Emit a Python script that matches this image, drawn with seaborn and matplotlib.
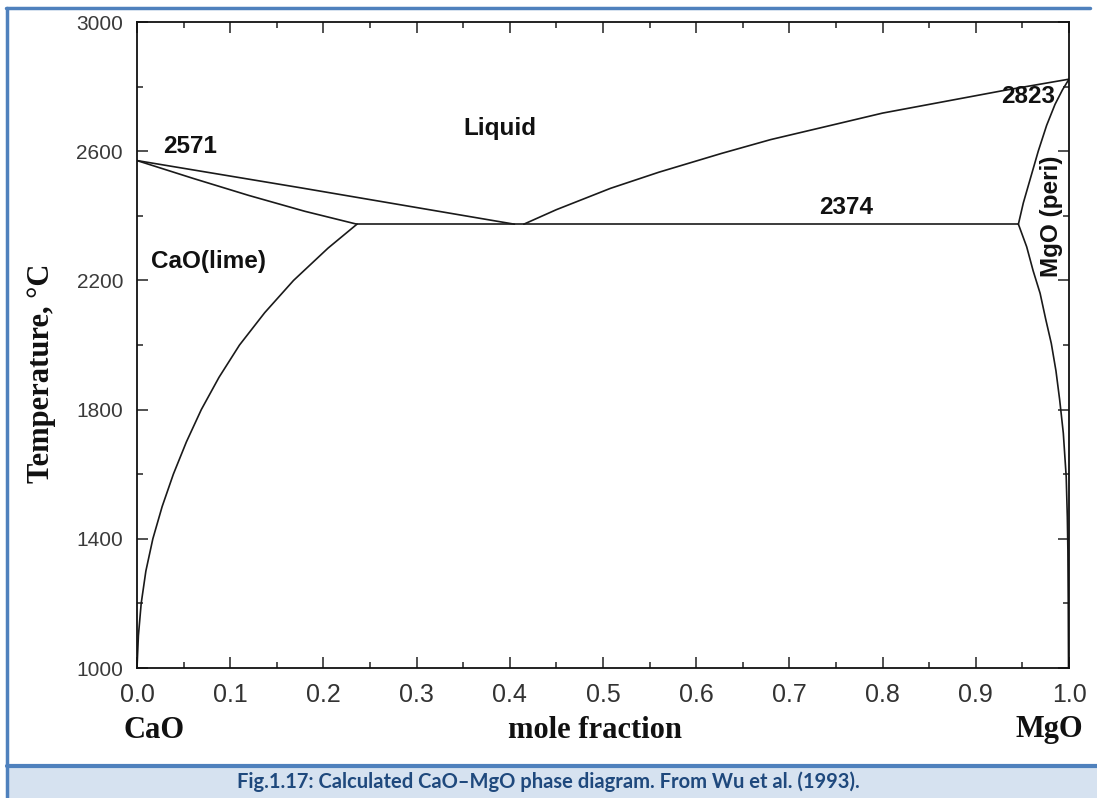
import numpy as np
import pandas as pd
import matplotlib
matplotlib.use("Agg")
import matplotlib.pyplot as plt
import seaborn as sns
from matplotlib.patches import Rectangle
from matplotlib.lines import Line2D
from matplotlib.ticker import MultipleLocator, FormatStrFormatter

# ---------------- data (mole fraction MgO, temperature in deg C) ----------------
liq_cao_x = [0.0, 0.175, 0.405]
liq_cao_t = [2571, 2487, 2374]

sol_cao_x = [0.0, 0.06, 0.12, 0.18, 0.236]
sol_cao_t = [2571, 2516, 2463, 2414, 2374]

solv_cao_x = [0.236, 0.205, 0.168, 0.137, 0.110, 0.088, 0.069, 0.053, 0.039,
              0.027, 0.017, 0.0095, 0.0045, 0.0015, 0.0]
solv_cao_t = [2374, 2300, 2200, 2100, 2000, 1900, 1800, 1700, 1600,
              1500, 1400, 1300, 1200, 1100, 1000]

eut_x = [0.236, 0.9457]
eut_t = [2374, 2374]

liq_mgo_x = [0.415, 0.45, 0.508, 0.56, 0.627, 0.68, 0.746, 0.80, 0.865, 0.93, 1.0]
liq_mgo_t = [2374, 2419, 2485, 2535, 2593, 2636, 2681, 2718, 2753, 2788, 2823]

sol_mgo_x = [1.0, 0.993, 0.985, 0.976, 0.967, 0.958, 0.951, 0.9457]
sol_mgo_t = [2823, 2790, 2745, 2680, 2600, 2510, 2440, 2374]

solv_mgo_x = [0.9457, 0.9546, 0.9615, 0.969, 0.975, 0.981, 0.986, 0.990, 0.9939,
              0.997, 0.9982, 0.9988, 0.9992, 0.9995]
solv_mgo_t = [2374, 2304, 2230, 2160, 2080, 2005, 1920, 1830, 1727,
              1592, 1468, 1365, 1200, 1000]

x_ticks = [0.0, 0.1, 0.2, 0.3, 0.4, 0.5, 0.6, 0.7, 0.8, 0.9, 1.0]
y_ticks = [1000, 1400, 1800, 2200, 2600, 3000]

labels = ["2571", "Liquid", "2374", "2823", "CaO(lime)"]
label_x = [0.028, 0.389, 0.761, 0.956, 0.015]
label_t = [2616, 2669, 2427, 2768, 2257]

caption = "Fig.1.17: Calculated CaO\u2013MgO phase diagram. From Wu et al. (1993)."

# ---------------- figure ----------------
sns.set_theme(style="ticks")
plt.rcParams["font.family"] = ["Liberation Sans", "DejaVu Sans"]

W, H = 1097, 798
fig = plt.figure(figsize=(W / 100, H / 100), dpi=100)
fig.patch.set_facecolor("white")

ax = fig.add_axes([137 / W, 1 - 668 / H, (1069 - 137) / W, (668 - 22) / H])

segments = [
    (liq_cao_x, liq_cao_t), (sol_cao_x, sol_cao_t), (solv_cao_x, solv_cao_t),
    (eut_x, eut_t), (liq_mgo_x, liq_mgo_t), (sol_mgo_x, sol_mgo_t),
    (solv_mgo_x, solv_mgo_t),
]
for xs, ts in segments:
    df = pd.DataFrame({"x": xs, "T": ts})
    sns.lineplot(data=df, x="x", y="T", sort=False, estimator=None, ax=ax,
                 color="#1a1a1a", linewidth=1.2, legend=False)

ax.set_xlim(0, 1)
ax.set_ylim(1000, 3000)
ax.set_xlabel("")
ax.set_ylabel("")
ax.set_xticks(x_ticks)
ax.set_yticks(y_ticks)
ax.xaxis.set_minor_locator(MultipleLocator(0.05))
ax.yaxis.set_minor_locator(MultipleLocator(200))
ax.xaxis.set_major_formatter(FormatStrFormatter("%.1f"))
ax.tick_params(which="both", direction="in", top=True, right=True, width=1.1, color="#222222")
ax.tick_params(which="major", length=8)
ax.tick_params(which="minor", length=4)
ax.tick_params(axis="x", which="major", labelsize=18, pad=11, labelcolor="#333333")
ax.tick_params(axis="y", which="major", labelsize=15, pad=10, labelcolor="#3a3a3a")
for s in ax.spines.values():
    s.set_linewidth(1.3)
    s.set_color("#111111")

for txt, lx, lt in zip(labels, label_x, label_t):
    ha = "left" if txt in ("2571", "CaO(lime)") else "center"
    ax.text(lx, lt, txt, fontsize=17.5, fontweight="bold", ha=ha, va="center", color="#111111")
ax.text(0.981, 2400, "MgO (peri)", fontsize=17.5, fontweight="bold", rotation=90,
        ha="center", va="center", color="#111111")

serif = dict(fontfamily="Liberation Serif", fontweight="bold", fontsize=22, color="#111111")
fig.text(42 / W, 1 - 373 / H, "Temperature, \u00b0C", rotation=90, ha="center", va="center", **serif)
fig.text(154 / W, 1 - 730 / H, "CaO", ha="center", va="center", **serif)
fig.text(595 / W, 1 - 730 / H, "mole fraction", ha="center", va="center", **serif)
fig.text(1049 / W, 1 - 730 / H, "MgO", ha="center", va="center", **serif)

# ---------------- frame and caption bar ----------------
blue = "#4F81BD"
fig.patches.append(Rectangle((7 / W, 0), (W - 7) / W, (H - 768) / H, transform=fig.transFigure,
                             facecolor="#D6E2F0", edgecolor="none", zorder=0))
fig.lines.append(Line2D([7 / W, 1], [1 - 766 / H, 1 - 766 / H], transform=fig.transFigure,
                        color=blue, linewidth=3))
fig.lines.append(Line2D([7 / W, 7 / W], [0, 1 - 8 / H], transform=fig.transFigure,
                        color=blue, linewidth=2.5))
fig.lines.append(Line2D([6 / W, 1090 / W], [1 - 8 / H, 1 - 8 / H], transform=fig.transFigure,
                        color=blue, linewidth=2.5))
fig.text(548 / W, 1 - 782 / H, caption, fontfamily="Lato", fontweight="bold", fontsize=14.5,
         color="#1F497D", ha="center", va="center")

fig.savefig("out.png", dpi=100)
